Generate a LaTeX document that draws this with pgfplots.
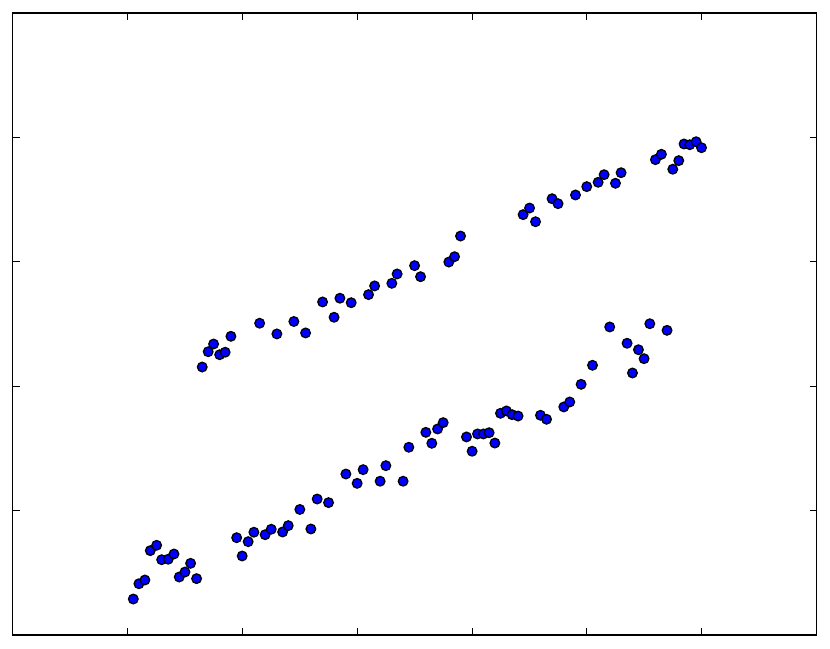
\documentclass[border=0pt]{standalone}
\usepackage{pgfplots}
\pgfplotsset{compat=1.18}
\begin{document}
\begin{tikzpicture}
\begin{axis}[
  scale only axis,
  width=402pt, height=311pt,
  xmin=0, xmax=7, ymin=0, ymax=5,
  xtick={1,2,3,4,5,6}, ytick={1,2,3,4},
  xticklabels={}, yticklabels={},
  tick align=inside, tick pos=both,
  major tick length=3.5pt,
  every tick/.style={black, line width=0.5pt},
  axis line style={black, line width=0.75pt},
  clip=false,
]
\addplot[only marks, mark=*, mark size=2.4pt, mark options={fill=blue, draw=black, line width=0.65pt}] coordinates {
(1.050,0.289) (1.099,0.412) (1.151,0.442) (1.198,0.678) (1.253,0.721)
(1.297,0.605) (1.354,0.609) (1.404,0.651) (1.450,0.466) (1.500,0.506)
(1.549,0.576) (1.601,0.453) (1.950,0.782) (1.998,0.635) (2.050,0.750)
(2.100,0.826) (2.198,0.806) (2.251,0.850) (2.350,0.828) (2.399,0.879)
(2.500,1.009) (2.596,0.852) (2.651,1.093) (2.750,1.064) (2.901,1.294)
(2.999,1.219) (3.051,1.329) (3.199,1.236) (3.249,1.361) (3.399,1.236)
(3.449,1.509) (3.597,1.629) (3.649,1.541) (3.699,1.656) (3.748,1.707)
(3.951,1.592) (4.000,1.477) (4.047,1.616) (4.099,1.616) (4.148,1.626)
(4.198,1.543) (4.247,1.782) (4.299,1.801) (4.348,1.771) (4.400,1.760)
(4.595,1.766) (4.648,1.734) (4.798,1.833) (4.850,1.873) (4.949,2.015)
(5.048,2.168) (5.198,2.476) (5.349,2.345) (5.396,2.106) (5.448,2.293)
(5.497,2.221) (5.547,2.502) (5.697,2.449)
(1.650,2.154) (1.702,2.277) (1.749,2.339) (1.802,2.253) (1.850,2.273)
(1.900,2.401) (2.150,2.506) (2.300,2.420) (2.448,2.520) (2.550,2.428)
(2.698,2.677) (2.798,2.554) (2.849,2.707) (2.947,2.671) (3.098,2.736)
(3.151,2.806) (3.301,2.827) (3.347,2.902) (3.499,2.969) (3.551,2.880)
(3.797,2.998) (3.847,3.041) (3.899,3.207) (4.444,3.379) (4.500,3.432)
(4.552,3.322) (4.696,3.507) (4.748,3.467) (4.900,3.537) (4.998,3.604)
(5.097,3.639) (5.149,3.700) (5.248,3.631) (5.297,3.716) (5.596,3.821)
(5.648,3.864) (5.747,3.744) (5.799,3.813) (5.845,3.947) (5.895,3.941)
(5.950,3.965) (5.997,3.917)
};
\end{axis}
\pgfresetboundingbox
\path (current axis.south west) ++(-6.35pt,-7pt) (current axis.north east) ++(6.65pt,6.5pt);
\end{tikzpicture}
\end{document}
